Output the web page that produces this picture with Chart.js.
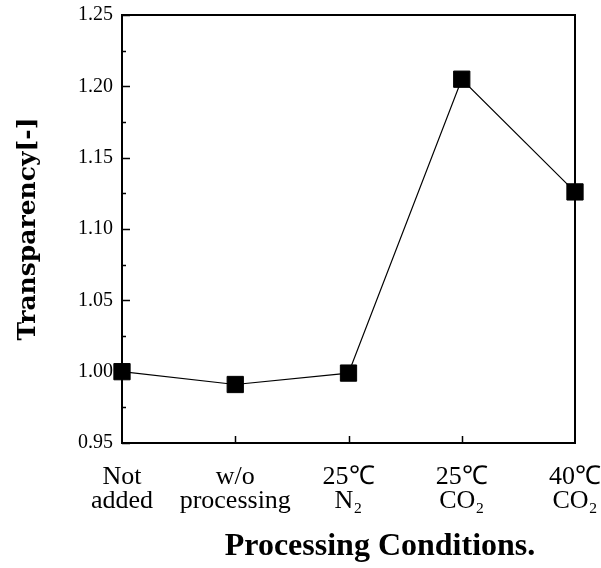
<!DOCTYPE html>
<html>
<head>
<meta charset="utf-8">
<script src="https://cdn.jsdelivr.net/npm/chart.js@4.4.0/dist/chart.umd.min.js"></script>
<style>
  html, body { margin: 0; padding: 0; background: #fff; }
  #wrap { width: 601px; height: 568px; }
</style>
</head>
<body>
<div id="wrap"><canvas id="linechart"></canvas></div>
<script>
var condizioni = [['Not', 'added'], ['w/o', 'processing'], ['25\u2103', 'N\u2082'], ['25\u2103', 'CO\u2082'], ['40\u2103', 'CO\u2082']];
var trasparenza = [1.000, 0.991, 0.999, 1.205, 1.126];
var yMajor = [0.95, 1.00, 1.05, 1.10, 1.15, 1.20, 1.25];
var yMinor = [0.975, 1.025, 1.075, 1.125, 1.175, 1.225];
var titoloX = 'Processing Conditions.';
var titoloY = 'Transparency[-]';

// ticks pointing inward + frame + x title
var decorazioni = {
  id: 'decorazioni',
  afterDatasetsDraw: function(chart) {
    var ctx = chart.ctx;
    var a = chart.chartArea;
    var y = chart.scales.y;
    var x = chart.scales.x;
    ctx.save();
    ctx.strokeStyle = '#000';
    ctx.lineWidth = 2;
    ctx.beginPath();
    ctx.moveTo(a.left, a.top);
    ctx.lineTo(a.right, a.top);
    ctx.lineTo(a.right, a.bottom);
    ctx.stroke();
    ctx.lineWidth = 1.5;
    ctx.beginPath();
    yMajor.forEach(function(v) {
      var py = Math.round(y.getPixelForValue(v)) + 0.5;
      ctx.moveTo(a.left, py);
      ctx.lineTo(a.left + 8, py);
    });
    yMinor.forEach(function(v) {
      var py = Math.round(y.getPixelForValue(v)) + 0.5;
      ctx.moveTo(a.left, py);
      ctx.lineTo(a.left + 4, py);
    });
    for (var i = 1; i < condizioni.length - 1; i++) {
      var px = Math.round(x.getPixelForValue(i)) + 0.5;
      ctx.moveTo(px, a.bottom);
      ctx.lineTo(px, a.bottom - 7);
    }
    ctx.stroke();
    ctx.fillStyle = '#000';
    ctx.font = 'bold 32px "Liberation Serif"';
    ctx.textAlign = 'center';
    ctx.textBaseline = 'middle';
    ctx.fillText(titoloX, 380, 547);
    ctx.restore();
  }
};

var ctx = document.getElementById('linechart');
var chart = new Chart(ctx, {
  type: 'line',
  data: {
    labels: condizioni,
    datasets: [{
      data: trasparenza,
      borderColor: '#000',
      borderWidth: 1.2,
      backgroundColor: '#000',
      pointStyle: 'rect',
      pointRadius: 11.5,
      pointBorderWidth: 1,
      pointBorderColor: '#000',
      pointBackgroundColor: '#000',
      clip: false
    }]
  },
  options: {
    responsive: true,
    maintainAspectRatio: false,
    animation: false,
    layout: { padding: { left: 0, top: 15, right: 26, bottom: 0 } },
    plugins: { legend: { display: false }, tooltip: { enabled: false } },
    scales: {
      x: {
        offset: false,
        grid: { display: false, drawTicks: true, tickLength: 22 },
        border: { display: true, color: '#000', width: 2 },
        ticks: {
          color: '#000',
          padding: 0,
          maxRotation: 0,
          autoSkip: false,
          font: { family: 'Liberation Serif', size: 26, lineHeight: 0.92 }
        },
        afterFit: function(s) { s.height = 125; }
      },
      y: {
        min: 0.95,
        max: 1.25,
        grid: { display: false, drawTicks: true, tickLength: 9 },
        border: { display: true, color: '#000', width: 2 },
        ticks: {
          stepSize: 0.05,
          color: '#000',
          padding: 0,
          font: { family: 'Liberation Serif', size: 20 },
          callback: function(v) { return Number(v).toFixed(2); }
        },
        title: {
          display: true,
          text: titoloY,
          color: '#000',
          padding: { top: 13, bottom: 0 },
          font: { family: 'DejaVu Serif', size: 25, weight: 'bold', lineHeight: 1.2 }
        },
        afterFit: function(s) { s.width = 122; }
      }
    }
  },
  plugins: [decorazioni]
});
</script>
</body>
</html>
